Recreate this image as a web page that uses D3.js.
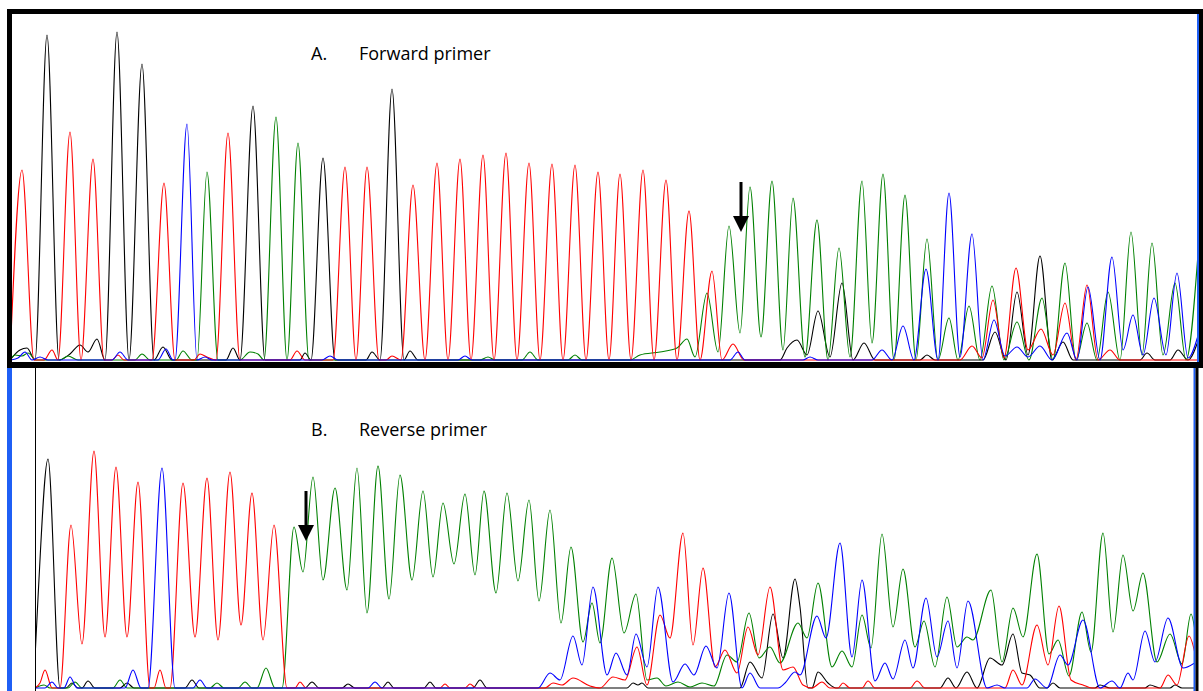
<!DOCTYPE html>
<html>
<head>
<meta charset="utf-8">
<script src="https://cdn.jsdelivr.net/npm/d3@7"></script>
<style>
  html, body { margin: 0; padding: 0; background: #fff; }
  svg { display: block; }
</style>
</head>
<body>
<div id="viz"></div>
<script>
// ---- data: [scan, signal] (signal = height above baseline) ----
const channels = ["black", "green", "red", "blue"];

// A. Forward primer
const fwdBlack = [[10,0],[20,10],[27,12],[35,0],[47,325],[59,0],[70,6],[80,15],[88,8],[97,21],[105,0],[117,328],[129,0],[142,296],[154,0],[163,13],[172,0],[226,0],[233,12],[240,0],[253,254],[265,0],[300,0],[305,7],[311,0],[323,202],[335,0],[366,0],[372,8],[380,0],[392,271],[404,0],[410,9],[418,0],[780,0],[787,12],[797,20],[807,5],[818,49],[830,3],[842,77],[853,0],[864,17],[875,0],[920,0],[927,5],[935,0],[983,0],[995,28],[1006,0],[1017,68],[1028,5],[1040,104],[1052,0],[1063,18],[1073,0],[1140,0],[1147,7],[1155,0],[1170,0],[1178,10],[1188,0],[1199,22]];
const fwdGreen = [[10,0],[15,5],[22,4],[28,7],[36,0],[60,0],[68,4],[78,0],[135,0],[142,6],[150,0],[176,0],[183,9],[192,0],[197,0],[207,188],[218,0],[240,0],[250,8],[258,6],[264,0],[276,243],[287,0],[298,217],[309,0],[480,0],[488,3],[495,0],[522,0],[530,8],[538,0],[568,0],[575,5],[582,0],[630,0],[640,5],[660,8],[677,12],[687,21],[695,3],[707,67],[718,8],[729,134],[740,27],[750,173],[761,23],[772,179],[783,10],[793,162],[805,3],[817,140],[828,0],[839,112],[850,3],[862,179],[872,17],[883,186],[894,0],[905,165],[916,0],[927,121],[938,0],[949,42],[958,0],[969,54],[980,0],[992,74],[1004,0],[1017,38],[1029,0],[1042,62],[1053,0],[1065,97],[1076,0],[1087,37],[1097,0],[1108,68],[1120,0],[1131,128],[1142,5],[1152,117],[1163,5],[1175,77],[1186,0],[1199,120]];
const fwdRed = [[10,0],[22,190],[34,0],[44,0],[52,10],[58,0],[70,228],[81,0],[93,201],[104,0],[112,0],[118,5],[124,0],[152,0],[164,177],[175,0],[194,0],[200,6],[207,3],[216,0],[228,227],[240,0],[290,0],[297,9],[305,0],[333,0],[345,193],[356,0],[367,193],[379,0],[386,0],[392,4],[401,0],[413,175],[425,0],[437,197],[448,0],[460,201],[471,0],[483,205],[494,0],[506,207],[517,0],[529,197],[540,0],[552,196],[563,0],[575,195],[586,0],[598,188],[609,0],[620,186],[631,0],[643,190],[654,0],[666,180],[677,0],[689,149],[700,0],[712,89],[722,0],[733,16],[744,0],[960,0],[972,14],[982,2],[993,60],[1004,2],[1016,92],[1028,10],[1041,31],[1053,5],[1065,57],[1076,0],[1087,75],[1098,0],[1110,10],[1120,0],[1199,0]];
const fwdBlue = [[10,0],[18,2],[25,8],[32,0],[40,3],[48,0],[112,0],[120,8],[128,0],[158,0],[166,11],[173,0],[175,0],[187,236],[197,0],[205,3],[212,0],[322,0],[330,4],[338,0],[458,0],[465,4],[472,0],[730,0],[738,8],[745,0],[803,0],[810,3],[818,0],[872,0],[882,10],[892,0],[903,34],[914,0],[926,91],[938,0],[949,167],[960,3],[972,126],[983,0],[994,40],[1005,4],[1017,13],[1028,3],[1040,14],[1052,0],[1067,27],[1077,0],[1088,73],[1100,0],[1112,103],[1123,10],[1133,45],[1143,5],[1154,62],[1166,5],[1177,87],[1188,2],[1199,28]];

// B. Reverse primer
const revBlack = [[35,30],[38,90],[48,229],[60,0],[66,0],[72,5],[78,0],[82,0],[88,7],[95,0],[120,0],[127,5],[134,0],[185,0],[192,8],[199,0],[305,0],[312,6],[319,0],[342,0],[348,4],[355,0],[382,0],[388,6],[394,0],[424,0],[430,6],[436,0],[473,0],[480,8],[487,0],[627,0],[633,5],[638,3],[642,5],[648,0],[740,0],[750,26],[762,10],[773,74],[783,30],[795,109],[800,81],[808,0],[812,0],[818,16],[828,5],[836,0],[940,0],[948,10],[956,0],[967,16],[977,0],[990,30],[1002,23],[1013,54],[1022,15],[1030,13],[1040,0],[1047,0],[1053,5],[1060,0],[1095,0],[1100,3],[1110,0],[1145,0],[1150,3],[1160,0],[1170,0],[1175,3],[1182,0],[1196,0]];
const revGreen = [[35,0],[44,3],[50,0],[68,0],[75,6],[82,0],[113,0],[120,8],[127,0],[210,0],[217,5],[224,0],[238,0],[245,6],[252,0],[257,0],[266,20],[275,0],[282,0],[294,161],[303,116],[313,211],[323,108],[335,200],[347,98],[357,220],[367,75],[378,222],[389,89],[400,213],[412,108],[423,197],[433,111],[443,185],[454,124],[465,194],[475,113],[484,197],[496,95],[507,195],[518,107],[529,188],[539,87],[550,178],[561,65],[571,141],[583,46],[592,85],[600,45],[612,130],[624,55],[636,94],[647,8],[657,10],[666,2],[678,6],[690,1],[702,5],[714,2],[727,33],[737,26],[749,75],[759,30],[770,41],[780,25],[798,65],[807,50],[818,105],[832,21],[842,37],[852,21],[862,73],[871,40],[882,154],[893,61],[903,119],[915,41],[924,67],[935,21],[947,91],[957,41],[967,51],[973,48],[991,98],[1002,26],[1013,80],[1023,51],[1037,134],[1049,34],[1058,48],[1069,12],[1082,76],[1091,36],[1103,155],[1113,56],[1123,133],[1133,77],[1143,115],[1157,26],[1170,54],[1182,24],[1191,74],[1196,50]];
const revRed = [[35,0],[40,5],[45,18],[52,0],[60,0],[71,163],[82,44],[94,237],[105,51],[116,221],[127,51],[138,206],[150,0],[154,0],[160,18],[166,0],[170,0],[183,205],[195,51],[207,210],[218,48],[230,216],[241,63],[252,195],[263,48],[274,163],[287,0],[295,0],[300,6],[306,0],[440,0],[445,4],[450,0],[465,0],[470,4],[476,0],[545,0],[553,5],[562,3],[573,10],[590,2],[600,0],[613,11],[625,8],[637,41],[647,3],[660,73],[670,50],[683,155],[693,43],[703,120],[715,21],[725,38],[737,15],[748,61],[758,33],[770,101],[783,18],[793,21],[803,3],[812,0],[822,6],[830,0],[838,0],[843,5],[850,0],[862,0],[868,7],[875,0],[910,0],[917,7],[925,0],[1005,0],[1013,18],[1022,3],[1037,63],[1048,23],[1059,82],[1071,8],[1083,3],[1092,0],[1160,0],[1168,13],[1177,3],[1189,52],[1196,30]];
const revBlue = [[35,0],[45,0],[52,6],[58,0],[64,0],[70,11],[77,0],[125,0],[133,18],[141,0],[148,0],[162,220],[175,0],[193,0],[200,8],[207,0],[368,0],[375,6],[382,0],[538,0],[550,15],[560,8],[573,52],[582,23],[593,101],[607,13],[616,35],[627,13],[636,54],[647,21],[658,101],[673,6],[685,24],[694,13],[706,42],[717,20],[729,95],[742,0],[750,15],[760,0],[778,0],[785,5],[795,16],[800,13],[817,72],[826,50],[840,145],[852,31],[862,108],[875,7],[885,25],[893,9],[905,48],[913,20],[926,90],[937,31],[948,67],[957,20],[968,87],[987,0],[997,3],[1005,0],[1027,0],[1035,9],[1047,0],[1060,33],[1068,23],[1083,68],[1100,0],[1112,7],[1120,0],[1128,15],[1133,8],[1145,57],[1155,26],[1168,70],[1183,20],[1196,26]];

const panelLabels = [["A.", "Forward primer"], ["B.", "Reverse primer"]];
const mutationScan = [741, 306];   // arrow positions (scan)
const signalMax = 350;

(function () {
  const W = 1203, H = 691;
  const colors = { black: "#000000", green: "#008000", red: "#ff0000", blue: "#0000ff" };
  const frameBlue = "#1f5ff5";

  const svg = d3.select("#viz").append("svg")
    .attr("width", W).attr("height", H)
    .attr("viewBox", `0 0 ${W} ${H}`);

  const defs = svg.append("defs");

  // panel geometry
  const panels = [
    { traces: { black: fwdBlack, green: fwdGreen, red: fwdRed, blue: fwdBlue },
      x0: 12, x1: 1197, top: 14, base: 360, labelY: 60, arrowTop: 182 },
    { traces: { black: revBlack, green: revGreen, red: revRed, blue: revBlue },
      x0: 35, x1: 1194, top: 368, base: 688, labelY: 436, arrowTop: 491 }
  ];

  const x = d3.scaleLinear().domain([0, W]).range([0, W]);

  panels.forEach((p, i) => {
    const y = d3.scaleLinear().domain([0, signalMax]).range([p.base, p.base - signalMax]);

    defs.append("clipPath").attr("id", "clip" + i)
      .append("rect")
      .attr("x", p.x0).attr("y", p.top - 40)
      .attr("width", p.x1 - p.x0).attr("height", p.base - p.top + 42);

    const line = d3.line()
      .x(d => x(d[0]))
      .y(d => y(d[1]))
      .curve(d3.curveMonotoneX);

    const g = svg.append("g").attr("clip-path", `url(#clip${i})`);

    channels.forEach(c => {
      g.append("path")
        .datum(p.traces[c])
        .attr("fill", "none")
        .attr("stroke", colors[c])
        .attr("stroke-width", 1.1)
        .attr("stroke-linejoin", "round")
        .attr("d", line);
    });

    // label
    const lab = svg.append("g")
      .attr("font-family", "'Open Sans', 'Noto Sans', sans-serif")
      .attr("font-size", 18)
      .attr("fill", "#000");
    lab.append("text").attr("x", 311).attr("y", p.labelY).text(panelLabels[i][0]);
    lab.append("text").attr("x", 359).attr("y", p.labelY).text(panelLabels[i][1]);

    // arrow marking the mutation
    const ax = x(mutationScan[i]);
    const tip = p.arrowTop + 50;
    svg.append("line")
      .attr("x1", ax).attr("x2", ax)
      .attr("y1", p.arrowTop).attr("y2", tip - 12)
      .attr("stroke", "#000").attr("stroke-width", 3);
    svg.append("path")
      .attr("d", `M${ax - 8},${tip - 16} L${ax + 8},${tip - 16} L${ax},${tip} Z`)
      .attr("fill", "#000");
  });

  // ---- frames ----
  const fr = svg.append("g");
  // panel A (black box, blue inner right edge)
  fr.append("rect").attr("x", 7).attr("y", 9).attr("width", 1196).attr("height", 5).attr("fill", "#000");
  fr.append("rect").attr("x", 7).attr("y", 9).attr("width", 5).attr("height", 355).attr("fill", "#000");
  fr.append("rect").attr("x", 1197).attr("y", 14).attr("width", 2).attr("height", 348).attr("fill", frameBlue);
  fr.append("rect").attr("x", 1199).attr("y", 9).attr("width", 4).attr("height", 355).attr("fill", "#000");
  fr.append("rect").attr("x", 7).attr("y", 362).attr("width", 1196).attr("height", 6).attr("fill", "#000");
  // panel B (blue left edge, black right edge)
  fr.append("rect").attr("x", 7).attr("y", 368).attr("width", 5).attr("height", H - 368).attr("fill", frameBlue);
  fr.append("rect").attr("x", 1193.5).attr("y", 368).attr("width", 2).attr("height", H - 368).attr("fill", frameBlue);
  fr.append("rect").attr("x", 1195.5).attr("y", 368).attr("width", 3).attr("height", H - 368).attr("fill", "#000");
  // y axis line of panel B
  fr.append("line")
    .attr("x1", 35.5).attr("x2", 35.5)
    .attr("y1", 368).attr("y2", H)
    .attr("stroke", "#000").attr("stroke-width", 1);
})();
</script>
</body>
</html>
